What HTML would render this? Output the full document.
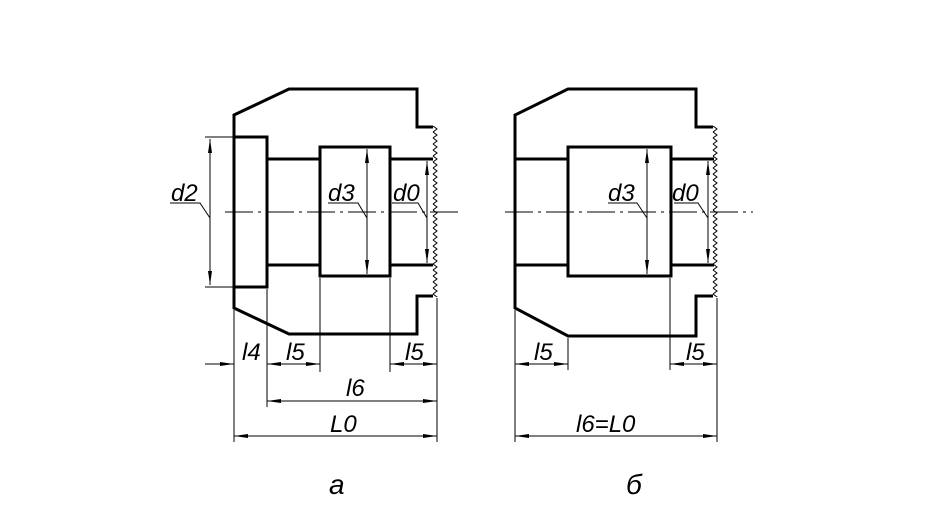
<!DOCTYPE html>
<html><head><meta charset="utf-8"><style>
html,body{margin:0;padding:0;background:#fff;}
svg{display:block}
text{font-family:"Liberation Sans",sans-serif;font-style:italic;fill:#000;font-weight:normal}
</style></head><body>
<svg width="944" height="530" viewBox="0 0 944 530" xmlns="http://www.w3.org/2000/svg">
<defs>
<marker id="a" viewBox="0 0 14 4" refX="14" refY="2" markerWidth="14" markerHeight="4" markerUnits="userSpaceOnUse" orient="auto-start-reverse"><path d="M0,0L14,2L0,4z" fill="#000"/></marker>
<pattern id="zp" x="430" y="126" width="10" height="6" patternUnits="userSpaceOnUse"><path d="M3,0 L7,3 L3,6" fill="none" stroke="#000" stroke-width="1"/></pattern>
<pattern id="zp2" x="710" y="126" width="10" height="6" patternUnits="userSpaceOnUse"><path d="M3,0 L7,3 L3,6" fill="none" stroke="#000" stroke-width="1"/></pattern>
</defs>
<rect x="430" y="126" width="10" height="171" fill="url(#zp)"/>
<rect x="710" y="126" width="10" height="171" fill="url(#zp2)"/>
<g fill="none" stroke="#000" stroke-width="3" stroke-linejoin="miter">
<path d="M433,127 L417,127 L417,89 L289,89 L234,115 L234,308 L289,334 L417,334 L417,296 L433,296"/>
<rect x="234" y="137" width="33" height="150"/>
<path d="M267,159 L320,159 M267,265 L320,265 M390,159 L433,159 M390,265 L433,265"/>
<rect x="320" y="147" width="70" height="129"/>
<path d="M713,127 L696,127 L696,89 L568,89 L515,115 L515,308 L568,336 L696,336 L696,296 L713,296"/>
<path d="M515,159 L568,159 M515,265 L568,265 M671,159 L714,159 M671,265 L714,265"/>
<rect x="568" y="147" width="103" height="129"/>
</g>
<g fill="none" stroke="#000" stroke-width="1">
<path d="M225,212 L460,212 M505,212 L753,212" stroke-dasharray="28,5,3,5"/>
<path d="M205,137 L234,137 M205,287 L234,287"/>
<path d="M210,139 L210,285" marker-start="url(#a)" marker-end="url(#a)"/>
<path d="M367,149 L367,274" marker-start="url(#a)" marker-end="url(#a)"/>
<path d="M427,161 L427,263" marker-start="url(#a)" marker-end="url(#a)"/>
<path d="M170,203 L200,203 L210,218 M328,203 L358,203 L367,218 M392,203 L418,203 L427,218"/>
<path d="M234,310 L234,442 M267,289 L267,407 M320,278 L320,372 M390,278 L390,372 M437,298 L437,442"/>
<path d="M205,364 L234,364" marker-end="url(#a)"/>
<path d="M267,364 L320,364" marker-start="url(#a)" marker-end="url(#a)"/>
<path d="M390,364 L437,364" marker-start="url(#a)" marker-end="url(#a)"/>
<path d="M267,401 L437,401" marker-start="url(#a)" marker-end="url(#a)"/>
<path d="M234,436 L437,436" marker-start="url(#a)" marker-end="url(#a)"/>
<path d="M647,149 L647,274" marker-start="url(#a)" marker-end="url(#a)"/>
<path d="M708,161 L708,263" marker-start="url(#a)" marker-end="url(#a)"/>
<path d="M608,203 L637,203 L647,218 M674,203 L698,203 L708,218"/>
<path d="M515,310 L515,442 M568,338 L568,370 M670,278 L670,370 M717,298 L717,442"/>
<path d="M515,364 L568,364" marker-start="url(#a)" marker-end="url(#a)"/>
<path d="M670,364 L717,364" marker-start="url(#a)" marker-end="url(#a)"/>
<path d="M515,436 L717,436" marker-start="url(#a)" marker-end="url(#a)"/>
</g>
<g font-size="24">
<text x="171" y="201">d2</text>
<text x="328" y="201">d3</text>
<text x="393" y="201">d0</text>
<text x="608" y="201">d3</text>
<text x="672" y="201">d0</text>
<text x="242" y="360">l4</text>
<text x="286" y="360">l5</text>
<text x="405" y="360">l5</text>
<text x="534" y="360">l5</text>
<text x="686" y="360">l5</text>
<text x="346" y="396">l6</text>
<text x="330" y="432">L0</text>
<text x="576" y="432">l6=L0</text>
<text x="329" y="494" font-size="28">а</text>
<text x="626" y="494" font-size="28">б</text>
</g>
</svg>
</body></html>
